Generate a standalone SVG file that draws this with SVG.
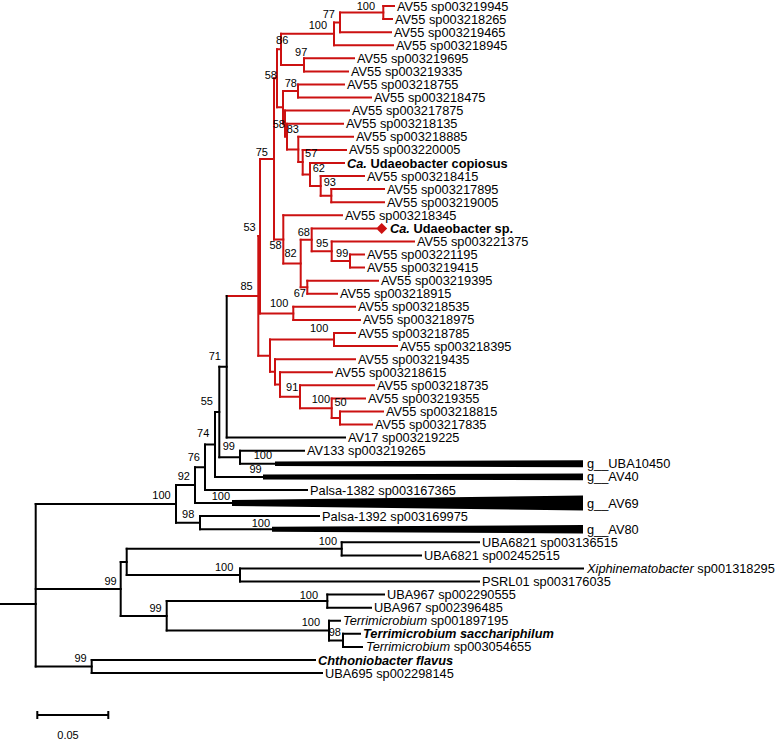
<svg xmlns="http://www.w3.org/2000/svg" width="777" height="740" viewBox="0 0 777 740">
<style>
.k{fill:none;stroke:#000;stroke-width:2;stroke-linecap:square}
.r{fill:none;stroke:#cc1111;stroke-width:2;stroke-linecap:square}
.w{fill:#000;stroke:none}
text{font-family:"Liberation Sans",Arial,sans-serif;fill:#000}
.l{font-size:12.8px}
.b{font-size:11px;text-anchor:end}
.s{font-size:11px;text-anchor:middle}
.i{font-style:italic}
.bd{font-weight:bold}
</style>
<rect width="777" height="740" fill="#fff"/>
<g id="connectors">
<path class="r" d="M383.3 6V19.1M340 12.5V32.2M334 22.4V45.2M304 58.3V71.4M281 33.8V64.9M298 84.5V97.6M331.3 189.1V202.2M320.7 176V195.7M310 163V185.9M302.7 149.9V174.4M298.3 136.8V162.1M287 123.7V149.5M285 110.6V136.6M283 91V123.6M277 49.3V107.3M350 254.5V267.6M331.7 241.4V261.1M311.7 228.4V251.3M307.3 280.7V293.8M300.7 239.8V287.2M283.3 215.3V263.5M274 78.3V239.4M293.3 306.8V319.9M260 158.9V313.4M334 333V346.1M340 411.5V424.6M331.7 398.4V418M300 385.3V408.2M280 372.2V396.8M275 359.2V384.5M270 339.5V371.8M258.3 236.1V355.7"/>
<path class="r" d="M226.7 295.9H258.3M258.3 236.1H260M258.3 355.7H270M260 158.9H274M260 313.4H293.3M274 78.3H277M274 239.4H283.3M277 49.3H281M277 107.3H283M281 33.8H334M281 64.9H304M334 22.4H340M334 45.2H393M340 12.5H383.3M340 32.2H391M383.3 6H394M383.3 19.1H392M304 58.3H354M304 71.4H348M283 91H298M283 123.6H285M298 84.5H344M298 97.6H371M285 110.6H349M285 136.6H287M287 123.7H343M287 149.5H298.3M298.3 136.8H353M298.3 162.1H302.7M302.7 149.9H346M302.7 174.4H310M310 163H344M310 185.9H320.7M320.7 176H364M320.7 195.7H331.3M331.3 189.1H384M331.3 202.2H384M283.3 215.3H342M283.3 263.5H300.7M300.7 239.8H311.7M300.7 287.2H307.3M311.7 228.4H376M311.7 251.3H331.7M331.7 241.4H414M331.7 261.1H350M350 254.5H364M350 267.6H364M307.3 280.7H378M307.3 293.8H337M293.3 306.8H355M293.3 319.9H360M270 339.5H334M270 371.8H275M334 333H355M334 346.1H397M275 359.2H355M275 384.5H280M280 372.2H332M280 396.8H300M300 385.3H374M300 408.2H331.7M331.7 398.4H365M331.7 418H340M340 411.5H383M340 424.6H372"/>
<path class="k" d="M240 450.7V463.8M226.7 295.9V437.6M219.3 366.8V457.3M215 412V476.9M205 444.5V490M195 467.2V503M200 516.1V529.2M176 485.1V522.7M341.7 542.3V555.4M240 568.4V581.5M126.7 548.8V575M327.3 594.6V607.7M343 633.8V646.9M329 620.8V640.4M166.7 601.1V630.6M120.7 561.9V615.9M91.7 660V673.1M35.7 503.9V666.5"/>
<path class="k" d="M219.3 366.8H226.7M226.7 437.6H345M219.3 457.3H240M240 450.7H304M240 463.8H275M215 412H219.3M215 476.9H263M205 444.5H215M205 490H307M195 467.2H205M195 503H232M176 485.1H195M176 522.7H200M200 516.1H319M200 529.2H272M35.7 503.9H176M35.7 588.9H120.7M35.7 666.5H91.7M0 604H35.7M120.7 561.9H126.7M120.7 615.9H166.7M126.7 548.8H341.7M126.7 575H240M341.7 542.3H479M341.7 555.4H421M240 568.4H583M240 581.5H479M166.7 601.1H327.3M166.7 630.6H329M327.3 594.6H384M327.3 607.7H371M329 620.8H340M329 640.4H343M343 633.8H360M343 646.9H362M91.7 660H315M91.7 673.1H322"/>
</g>
<g id="wedges">
<polygon class="w" points="275,461.5 583,460.3 583,467.3 275,466.1"/>
<polygon class="w" points="263,474.4 583,473.6 583,480.2 263,479.4"/>
<polygon class="w" points="232,500 583,495.5 583,510.5 232,506"/>
<polygon class="w" points="272,526.7 583,525 583,533.4 272,531.7"/>
</g>
<g id="leaves" class="l">
<text class="l" x="397" y="10.5">AV55 sp003219945</text>
<text class="l" x="395" y="23.6">AV55 sp003218265</text>
<text class="l" x="394" y="36.7">AV55 sp003219465</text>
<text class="l" x="396" y="49.7">AV55 sp003218945</text>
<text class="l" x="357" y="62.8">AV55 sp003219695</text>
<text class="l" x="351" y="75.9">AV55 sp003219335</text>
<text class="l" x="347" y="89">AV55 sp003218755</text>
<text class="l" x="374" y="102.1">AV55 sp003218475</text>
<text class="l" x="352" y="115.1">AV55 sp003217875</text>
<text class="l" x="346" y="128.2">AV55 sp003218135</text>
<text class="l" x="356" y="141.3">AV55 sp003218885</text>
<text class="l" x="349" y="154.4">AV55 sp003220005</text>
<text class="l bd" x="347" y="167.5"><tspan class="i">Ca.</tspan> Udaeobacter copiosus</text>
<text class="l" x="367" y="180.5">AV55 sp003218415</text>
<text class="l" x="387" y="193.6">AV55 sp003217895</text>
<text class="l" x="387" y="206.7">AV55 sp003219005</text>
<text class="l" x="345" y="219.8">AV55 sp003218345</text>
<g id="udaeobacter-sp">
<polygon fill="#cc1111" points="381.7,222.9 387.2,228.4 381.7,233.9 376.2,228.4"/>
<text class="l bd" x="390" y="232.9"><tspan class="i">Ca.</tspan> Udaeobacter sp.</text>
</g>
<text class="l" x="417" y="245.9">AV55 sp003221375</text>
<text class="l" x="367" y="259">AV55 sp003221195</text>
<text class="l" x="367" y="272.1">AV55 sp003219415</text>
<text class="l" x="381" y="285.2">AV55 sp003219395</text>
<text class="l" x="340" y="298.3">AV55 sp003218915</text>
<text class="l" x="358" y="311.3">AV55 sp003218535</text>
<text class="l" x="363" y="324.4">AV55 sp003218975</text>
<text class="l" x="358" y="337.5">AV55 sp003218785</text>
<text class="l" x="400" y="350.6">AV55 sp003218395</text>
<text class="l" x="358" y="363.7">AV55 sp003219435</text>
<text class="l" x="335" y="376.7">AV55 sp003218615</text>
<text class="l" x="377" y="389.8">AV55 sp003218735</text>
<text class="l" x="368" y="402.9">AV55 sp003219355</text>
<text class="l" x="386" y="416">AV55 sp003218815</text>
<text class="l" x="375" y="429.1">AV55 sp003217835</text>
<text class="l" x="348" y="442.1">AV17 sp003219225</text>
<text class="l" x="307" y="455.2">AV133 sp003219265</text>
<text class="l" x="587" y="468.3">g__UBA10450</text>
<text class="l" x="587" y="481.4">g__AV40</text>
<text class="l" x="310" y="494.5">Palsa-1382 sp003167365</text>
<text class="l" x="587" y="507.5">g__AV69</text>
<text class="l" x="322" y="520.6">Palsa-1392 sp003169975</text>
<text class="l" x="587" y="533.7">g__AV80</text>
<text class="l" x="482" y="546.8">UBA6821 sp003136515</text>
<text class="l" x="424" y="559.9">UBA6821 sp002452515</text>
<text class="l" x="587" y="572.9"><tspan class="i">Xiphinematobacter</tspan> sp001318295</text>
<text class="l" x="482" y="586">PSRL01 sp003176035</text>
<text class="l" x="387" y="599.1">UBA967 sp002290555</text>
<text class="l" x="374" y="612.2">UBA967 sp002396485</text>
<text class="l" x="343" y="625.3"><tspan class="i">Terrimicrobium</tspan> sp001897195</text>
<text class="l bd i" x="363" y="638.3">Terrimicrobium sacchariphilum</text>
<text class="l" x="366" y="651.4"><tspan class="i">Terrimicrobium</tspan> sp003054655</text>
<text class="l bd i" x="318" y="664.5">Chthoniobacter flavus</text>
<text class="l" x="325" y="677.6">UBA695 sp002298145</text>
</g>
<g id="support">
<text class="b" x="375" y="9.5">100</text>
<text class="b" x="335" y="18">77</text>
<text class="b" x="327" y="29">100</text>
<text class="b" x="288.3" y="44">86</text>
<text class="b" x="307.3" y="55.7">97</text>
<text class="b" x="277" y="79">58</text>
<text class="b" x="297" y="86.7">78</text>
<text class="b" x="285" y="128">58</text>
<text class="b" x="299" y="133">83</text>
<text class="b" x="268" y="156">75</text>
<text class="b" x="317.3" y="157.3">57</text>
<text class="b" x="325" y="172.3">62</text>
<text class="b" x="336" y="185.7">93</text>
<text class="b" x="255.7" y="230.7">53</text>
<text class="b" x="310" y="235.7">68</text>
<text class="b" x="281.7" y="249">58</text>
<text class="b" x="328.3" y="247.3">95</text>
<text class="b" x="296.7" y="257.3">82</text>
<text class="b" x="348.3" y="257.3">99</text>
<text class="b" x="306" y="296.7">67</text>
<text class="b" x="252.7" y="290">85</text>
<text class="b" x="288.3" y="306.7">100</text>
<text class="b" x="328.3" y="332.3">100</text>
<text class="b" x="298.3" y="390.7">91</text>
<text class="b" x="330" y="403.3">100</text>
<text class="b" x="346.7" y="405.7">50</text>
<text class="b" x="221" y="360">71</text>
<text class="b" x="213" y="404.7">55</text>
<text class="b" x="209.3" y="437">74</text>
<text class="b" x="200" y="461">76</text>
<text class="b" x="190" y="479.7">92</text>
<text class="b" x="170.7" y="499">100</text>
<text class="b" x="235" y="449.7">99</text>
<text class="b" x="272" y="459">100</text>
<text class="b" x="261.7" y="473.3">99</text>
<text class="b" x="230" y="500">100</text>
<text class="b" x="194.3" y="518">98</text>
<text class="b" x="270" y="527">100</text>
<text class="b" x="337" y="545">100</text>
<text class="b" x="233.3" y="570.7">100</text>
<text class="b" x="116.7" y="584.7">99</text>
<text class="b" x="161.7" y="611.7">99</text>
<text class="b" x="318" y="599">100</text>
<text class="b" x="320" y="626">100</text>
<text class="b" x="341" y="635.7">98</text>
<text class="b" x="86.7" y="662.3">99</text>
</g>
<g id="scale-bar">
<path class="k" d="M37.3 715H108.3M37.3 712V718M108.3 712V718"/>
<text class="s" x="68" y="739">0.05</text>
</g>
</svg>
